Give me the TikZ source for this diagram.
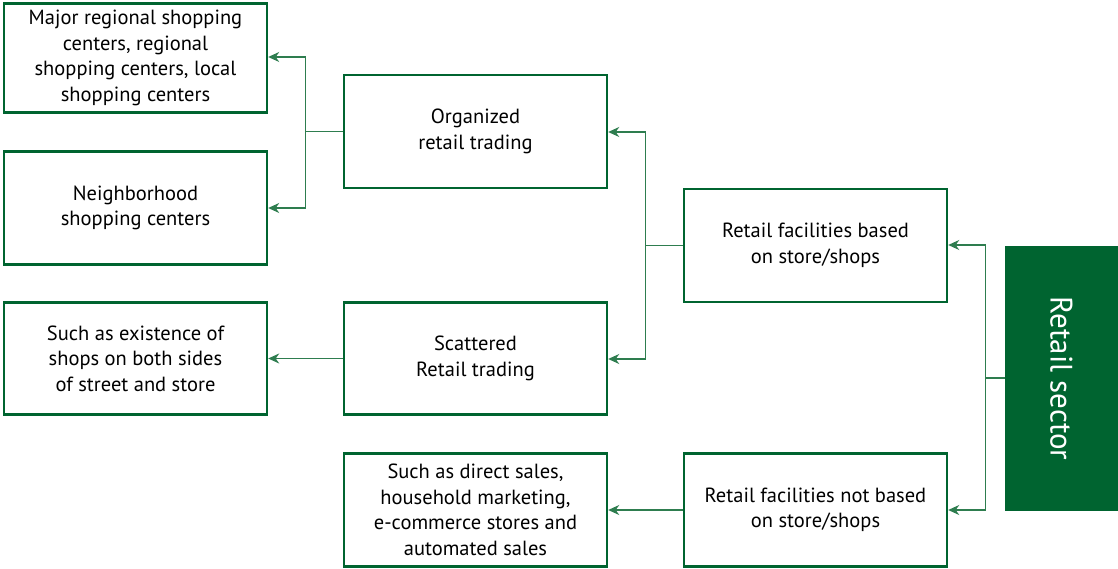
\documentclass[tikz,border=0pt]{standalone}
\usepackage{fontspec}
\setmainfont{PT Sans}
\usetikzlibrary{arrows.meta}
\definecolor{retailgreen}{HTML}{006430}
\definecolor{linkgreen}{HTML}{2E7D4F}
\begin{document}
\begin{tikzpicture}[x=1pt,y=-1pt,
  box/.style={draw=retailgreen, line width=2.4pt, minimum width=263pt, inner sep=0pt,
    align=center, font=\fontsize{20.5}{25.5}\selectfont, text=black},
  link/.style={draw=linkgreen, line width=1.3pt},
  arr/.style={link, -{Stealth[length=11pt,width=10pt,inset=3.5pt]}}]
\useasboundingbox (0,0) rectangle (1118,569);

% boxes (centres and heights)
\node[box, minimum height=109pt] (major) at (135.5,58) {Major regional shopping\\centers, regional\\shopping centers, local\\shopping centers};
\node[box, minimum height=113pt] (neigh) at (135.5,208) {Neighborhood\\shopping centers};
\node[box, minimum height=112pt] (exist) at (135.5,358.5) {Such as existence of\\shops on both sides\\of street and store};
\node[box, minimum height=113pt] (org) at (475.5,131.5) {Organized\\retail trading};
\node[box, minimum height=112pt] (scat) at (475.5,358.5) {Scattered\\Retail trading};
\node[box, minimum height=113pt] (based) at (815.5,245.5) {Retail facilities based\\on store/shops};
\node[box, minimum height=113pt] (notbased) at (815.5,510) {Retail facilities not based\\on store/shops};
\node[box, minimum height=113pt] (direct) at (475.5,510) {Such as direct sales,\\household marketing,\\e-commerce stores and\\automated sales};
\node[fill=retailgreen, minimum width=113pt, minimum height=265pt, inner sep=0pt] (sector) at (1061.5,378.5) {};
\node[text=white, rotate=-90, font=\fontsize{31}{34}\selectfont] (sectorlabel) at (sector.center) {Retail sector};

% branching connectors
\coordinate (j1) at (305.5,131.5);
\coordinate (j2) at (645.5,245.5);
\coordinate (j3) at (985.5,378);
\draw[link] (org.west) -- (j1);
\draw[arr] (j1) |- (major.east |- 0,57);
\draw[arr] (j1) |- (neigh.east |- 0,208);
\draw[link] (based.west) -- (j2);
\draw[arr] (j2) |- (org.east |- 0,132);
\draw[arr] (j2) |- (scat.east |- 0,359);
\draw[link] (sector.west |- j3) -- (j3);
\draw[arr] (j3) |- (based.east |- 0,245);
\draw[arr] (j3) |- (notbased.east |- 0,510);

% direct connectors
\draw[arr] (scat.west) -- (exist.east);
\draw[arr] (notbased.west) -- (direct.east);
\end{tikzpicture}
\end{document}
